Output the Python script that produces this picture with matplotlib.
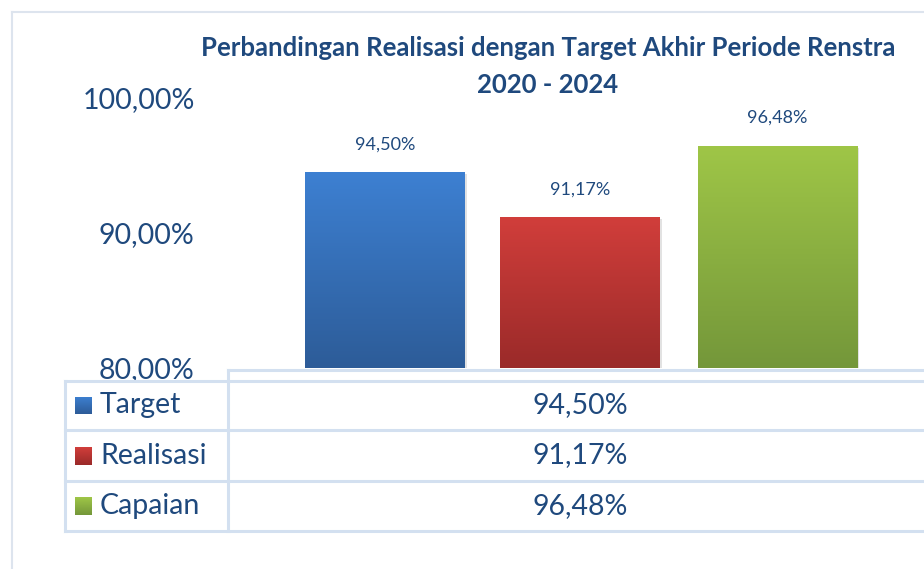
import numpy as np
import matplotlib
matplotlib.use("Agg")
import matplotlib.pyplot as plt
from matplotlib.lines import Line2D
from matplotlib.colors import LinearSegmentedColormap

# data: one category, three series (Excel-style chart with data table)
series = ["Target", "Realisasi", "Capaian"]
values = [94.50, 91.17, 96.48]
value_labels = ["94,50%", "91,17%", "96,48%"]
yticks = [80, 90, 100]
ytick_labels = ["80,00%", "90,00%", "100,00%"]
title_lines = ["Perbandingan Realisasi dengan Target Akhir Periode Renstra", "2020 - 2024"]

# gradient colours (top, bottom) per series
GRAD = {"Target": ("#3d80d2", "#2d5c98"),
        "Realisasi": ("#d13e3b", "#9a2a29"),
        "Capaian": ("#9fc647", "#74973a")}
TXT = "#1f497d"
GRID = "#d3e0f0"

plt.rcParams["font.family"] = ["Lato", "DejaVu Sans"]

W, H = 924, 569
fig = plt.figure(figsize=(W / 100, H / 100), dpi=100)


def px(x, y):
    return x / W, 1 - y / H


# plot area (pixel box 228..932 x 98..368)
x0, y0 = px(228, 368)
x1, y1 = px(932, 98)
ax = fig.add_axes([x0, y0, x1 - x0, y1 - y0])
ax.set_xlim(-0.5, 0.5)
ax.set_ylim(80, 100)

width = 0.226
offsets = np.array([-0.277, 0.0, 0.28])
for s, v, lab, dx in zip(series, values, value_labels, offsets):
    # soft shadow
    ax.bar(dx + 0.004, v - 80, bottom=80 - 0.15, width=width, color="#bfbfbf",
           alpha=0.45, zorder=1)
    bar = ax.bar(dx, v - 80, bottom=80, width=width, color=GRAD[s][0], zorder=2)[0]
    cmap = LinearSegmentedColormap.from_list(s, [GRAD[s][1], GRAD[s][0]])
    grad = np.linspace(0, 1, 256).reshape(-1, 1)
    im = ax.imshow(grad, cmap=cmap, origin="lower", aspect="auto",
                   extent=[dx - width / 2, dx + width / 2, 80, v], zorder=3)
    im.set_clip_path(bar)
    ax.annotate(lab, (dx, v), xytext=(0, 14), textcoords="offset points",
                ha="center", va="bottom", fontsize=13, color=TXT)

ax.set_xlim(-0.5, 0.5)
ax.set_ylim(80, 100)
ax.set_xticks([])
ax.set_yticks(yticks)
ax.set_yticklabels(ytick_labels, fontsize=20.5, color=TXT)
ax.tick_params(axis="y", length=0, pad=24)
for sp in ax.spines.values():
    sp.set_visible(False)

# title
fig.text(*px(548, 48), title_lines[0], ha="center", va="center",
         fontsize=18.5, fontweight="bold", color=TXT)
fig.text(*px(548, 85), title_lines[1], ha="center", va="center",
         fontsize=18.5, fontweight="bold", color=TXT)


def hline(y, xa, xb, color=GRID, lw=2.2):
    fig.add_artist(Line2D([xa / W, xb / W], [1 - y / H, 1 - y / H],
                          color=color, lw=lw, transform=fig.transFigure))


def vline(x, ya, yb, color=GRID, lw=2.2):
    fig.add_artist(Line2D([x / W, x / W], [1 - ya / H, 1 - yb / H],
                          color=color, lw=lw, transform=fig.transFigure))


# outer chart border (cropped)
hline(12, 12, 924, color="#dde4ee", lw=1.5)
vline(12, 12, 569, color="#dde4ee", lw=1.5)

# data table
rows_y = [381, 430, 481, 531]
hline(370, 228, 932)
for y in rows_y:
    hline(y, 65, 932)
vline(65, 381, 531)
vline(228, 370, 531)

for i, (s, lab) in enumerate(zip(series, value_labels)):
    yc = (rows_y[i] + rows_y[i + 1]) / 2
    top, bot = GRAD[s]
    cmap = LinearSegmentedColormap.from_list("k" + s, [bot, top])
    kx0, ky0 = px(75, yc + 9)
    kx1, ky1 = px(92, yc - 9)
    kax = fig.add_axes([kx0, ky0, kx1 - kx0, ky1 - ky0])
    kax.imshow(np.linspace(0, 1, 64).reshape(-1, 1), cmap=cmap, origin="lower",
               aspect="auto")
    kax.axis("off")
    fig.text(*px(100, yc), s, ha="left", va="center", fontsize=20.5, color=TXT)
    fig.text(*px(580, yc), lab, ha="center", va="center", fontsize=20.5, color=TXT)

fig.savefig("out.png", dpi=100)
